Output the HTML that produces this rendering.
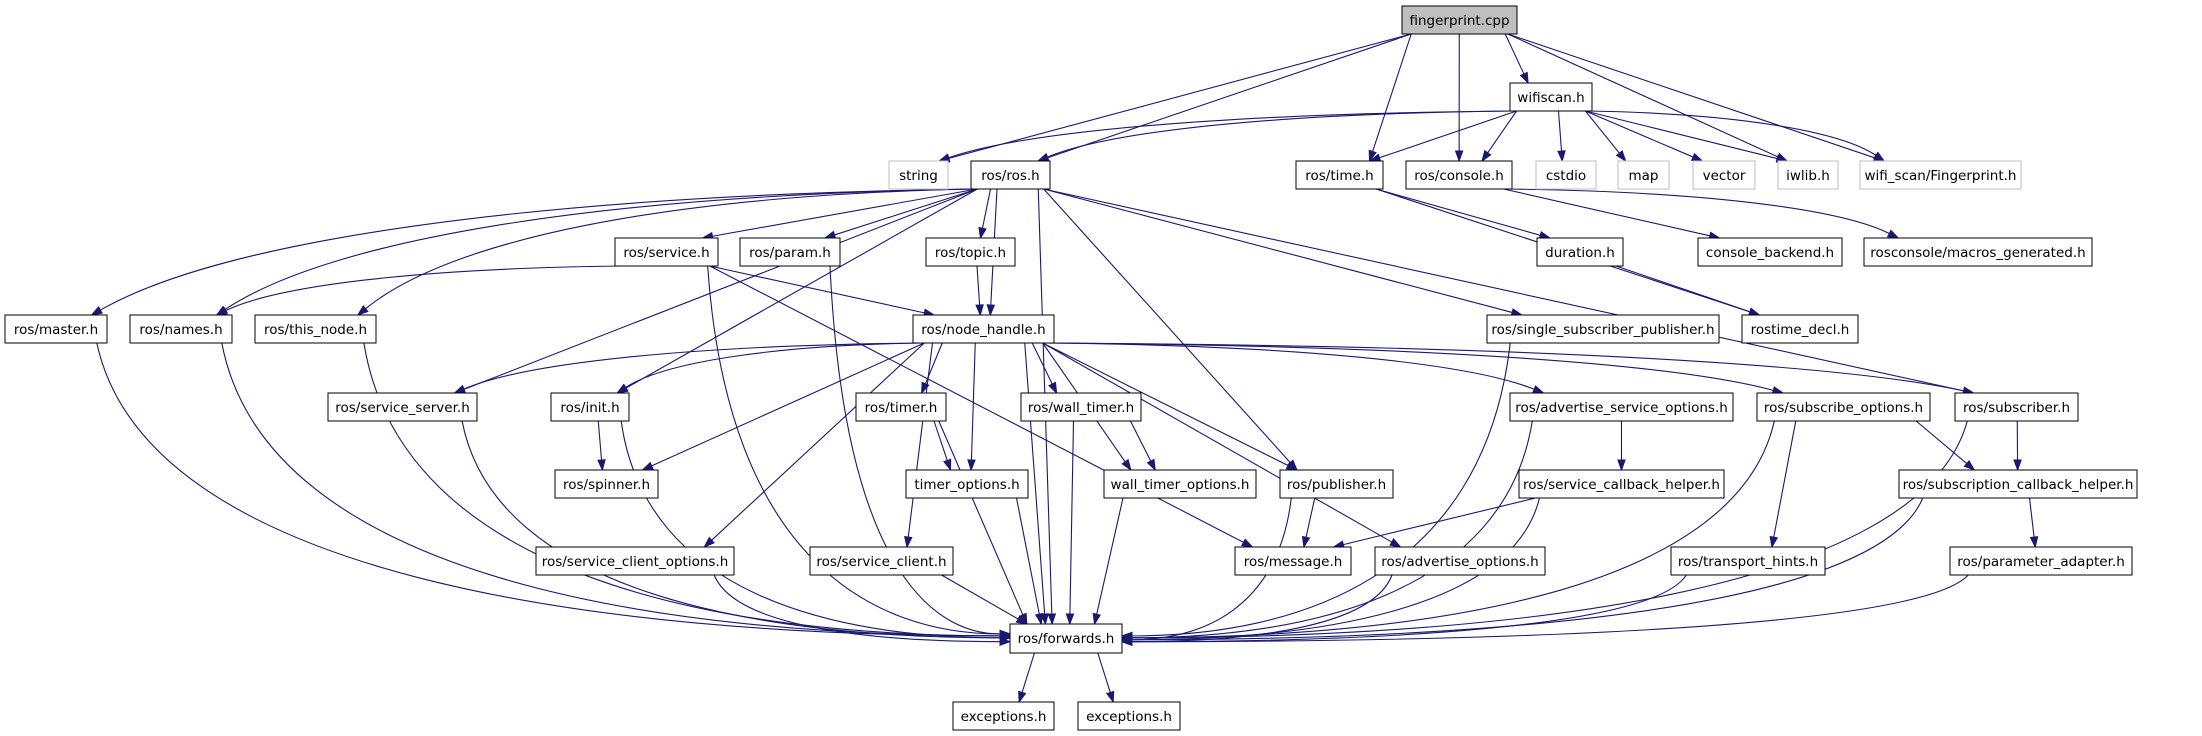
<!DOCTYPE html>
<html><head><meta charset="utf-8"><style>
html,body{margin:0;padding:0;background:#fff;}
svg{display:block;}
text{font-family:"DejaVu Sans","Liberation Sans",sans-serif;font-size:13.5px;fill:#000;}
</style></head><body>
<svg id="g" width="2202" height="736" viewBox="0 0 2202 736" xmlns="http://www.w3.org/2000/svg">
<g id="edges" fill="none" stroke="#191970" stroke-width="1.1"></g>
<g id="heads" fill="#191970" stroke="#191970"></g>
<g id="nodes" stroke-width="1">
<rect x="1402" y="6" width="115" height="28" fill="#bfbfbf" stroke="#000"/><text x="1459.5" y="25" text-anchor="middle">fingerprint.cpp</text>
<rect x="1510" y="83" width="82" height="28" fill="#fff" stroke="#000"/><text x="1551" y="102" text-anchor="middle">wifiscan.h</text>
<rect x="889" y="161" width="59" height="28" fill="#fff" stroke="#bfbfbf"/><text x="918.5" y="180" text-anchor="middle">string</text>
<rect x="971" y="161" width="79" height="28" fill="#fff" stroke="#000"/><text x="1010.5" y="180" text-anchor="middle">ros/ros.h</text>
<rect x="1296" y="161" width="87" height="28" fill="#fff" stroke="#000"/><text x="1339.5" y="180" text-anchor="middle">ros/time.h</text>
<rect x="1406" y="161" width="106" height="28" fill="#fff" stroke="#000"/><text x="1459" y="180" text-anchor="middle">ros/console.h</text>
<rect x="1536" y="161" width="60" height="28" fill="#fff" stroke="#bfbfbf"/><text x="1566" y="180" text-anchor="middle">cstdio</text>
<rect x="1618" y="161" width="51" height="28" fill="#fff" stroke="#bfbfbf"/><text x="1643.5" y="180" text-anchor="middle">map</text>
<rect x="1693" y="161" width="62" height="28" fill="#fff" stroke="#bfbfbf"/><text x="1724" y="180" text-anchor="middle">vector</text>
<rect x="1778" y="161" width="60" height="28" fill="#fff" stroke="#bfbfbf"/><text x="1808" y="180" text-anchor="middle">iwlib.h</text>
<rect x="1860" y="161" width="161" height="28" fill="#fff" stroke="#bfbfbf"/><text x="1940.5" y="180" text-anchor="middle">wifi_scan/Fingerprint.h</text>
<rect x="615" y="238" width="103" height="28" fill="#fff" stroke="#000"/><text x="666.5" y="257" text-anchor="middle">ros/service.h</text>
<rect x="740" y="238" width="100" height="28" fill="#fff" stroke="#000"/><text x="790" y="257" text-anchor="middle">ros/param.h</text>
<rect x="926" y="238" width="89" height="28" fill="#fff" stroke="#000"/><text x="970.5" y="257" text-anchor="middle">ros/topic.h</text>
<rect x="1537" y="238" width="86" height="28" fill="#fff" stroke="#000"/><text x="1580" y="257" text-anchor="middle">duration.h</text>
<rect x="1698" y="238" width="144" height="28" fill="#fff" stroke="#000"/><text x="1770" y="257" text-anchor="middle">console_backend.h</text>
<rect x="1864" y="238" width="228" height="28" fill="#fff" stroke="#000"/><text x="1978" y="257" text-anchor="middle">rosconsole/macros_generated.h</text>
<rect x="5" y="315" width="102" height="28" fill="#fff" stroke="#000"/><text x="56" y="334" text-anchor="middle">ros/master.h</text>
<rect x="130" y="315" width="102" height="28" fill="#fff" stroke="#000"/><text x="181" y="334" text-anchor="middle">ros/names.h</text>
<rect x="255" y="315" width="121" height="28" fill="#fff" stroke="#000"/><text x="315.5" y="334" text-anchor="middle">ros/this_node.h</text>
<rect x="913" y="315" width="141" height="28" fill="#fff" stroke="#000"/><text x="983.5" y="334" text-anchor="middle">ros/node_handle.h</text>
<rect x="1487" y="315" width="232" height="28" fill="#fff" stroke="#000"/><text x="1603" y="334" text-anchor="middle">ros/single_subscriber_publisher.h</text>
<rect x="1742" y="315" width="116" height="28" fill="#fff" stroke="#000"/><text x="1800" y="334" text-anchor="middle">rostime_decl.h</text>
<rect x="328" y="393" width="149" height="28" fill="#fff" stroke="#000"/><text x="402.5" y="412" text-anchor="middle">ros/service_server.h</text>
<rect x="551" y="393" width="78" height="28" fill="#fff" stroke="#000"/><text x="590" y="412" text-anchor="middle">ros/init.h</text>
<rect x="856" y="393" width="90" height="28" fill="#fff" stroke="#000"/><text x="901" y="412" text-anchor="middle">ros/timer.h</text>
<rect x="1021" y="393" width="120" height="28" fill="#fff" stroke="#000"/><text x="1081" y="412" text-anchor="middle">ros/wall_timer.h</text>
<rect x="1510" y="393" width="223" height="28" fill="#fff" stroke="#000"/><text x="1621.5" y="412" text-anchor="middle">ros/advertise_service_options.h</text>
<rect x="1757" y="393" width="173" height="28" fill="#fff" stroke="#000"/><text x="1843.5" y="412" text-anchor="middle">ros/subscribe_options.h</text>
<rect x="1955" y="393" width="123" height="28" fill="#fff" stroke="#000"/><text x="2016.5" y="412" text-anchor="middle">ros/subscriber.h</text>
<rect x="555" y="470" width="103" height="28" fill="#fff" stroke="#000"/><text x="606.5" y="489" text-anchor="middle">ros/spinner.h</text>
<rect x="906" y="470" width="122" height="28" fill="#fff" stroke="#000"/><text x="967" y="489" text-anchor="middle">timer_options.h</text>
<rect x="1104" y="470" width="152" height="28" fill="#fff" stroke="#000"/><text x="1180" y="489" text-anchor="middle">wall_timer_options.h</text>
<rect x="1280" y="470" width="113" height="28" fill="#fff" stroke="#000"/><text x="1336.5" y="489" text-anchor="middle">ros/publisher.h</text>
<rect x="1519" y="470" width="205" height="28" fill="#fff" stroke="#000"/><text x="1621.5" y="489" text-anchor="middle">ros/service_callback_helper.h</text>
<rect x="1899" y="470" width="238" height="28" fill="#fff" stroke="#000"/><text x="2018" y="489" text-anchor="middle">ros/subscription_callback_helper.h</text>
<rect x="536" y="547" width="198" height="28" fill="#fff" stroke="#000"/><text x="635" y="566" text-anchor="middle">ros/service_client_options.h</text>
<rect x="810" y="547" width="143" height="28" fill="#fff" stroke="#000"/><text x="881.5" y="566" text-anchor="middle">ros/service_client.h</text>
<rect x="1235" y="547" width="116" height="28" fill="#fff" stroke="#000"/><text x="1293" y="566" text-anchor="middle">ros/message.h</text>
<rect x="1375" y="547" width="170" height="28" fill="#fff" stroke="#000"/><text x="1460" y="566" text-anchor="middle">ros/advertise_options.h</text>
<rect x="1671" y="547" width="154" height="28" fill="#fff" stroke="#000"/><text x="1748" y="566" text-anchor="middle">ros/transport_hints.h</text>
<rect x="1950" y="547" width="182" height="28" fill="#fff" stroke="#000"/><text x="2041" y="566" text-anchor="middle">ros/parameter_adapter.h</text>
<rect x="1010" y="624" width="112" height="29" fill="#fff" stroke="#000"/><text x="1066" y="643" text-anchor="middle">ros/forwards.h</text>
<rect x="953" y="702" width="101" height="28" fill="#fff" stroke="#000"/><text x="1003.5" y="721" text-anchor="middle">exceptions.h</text>
<rect x="1078" y="702" width="102" height="28" fill="#fff" stroke="#000"/><text x="1129" y="721" text-anchor="middle">exceptions.h</text>
</g>
</svg>
<script>
var N={
fp:[1402,6,115],wifi:[1510,83,82],str:[889,161,59],ros:[971,161,79],time:[1296,161,87],cons:[1406,161,106],
cstdio:[1536,161,60],map:[1618,161,51],vec:[1693,161,62],iw:[1778,161,60],wf:[1860,161,161],
svc:[615,238,103],param:[740,238,100],topic:[926,238,89],dur:[1537,238,86],cb:[1698,238,144],mg:[1864,238,228],
master:[5,315,102],names:[130,315,102],tn:[255,315,121],nh:[913,315,141],ssp:[1487,315,232],rd:[1742,315,116],
ss:[328,393,149],init:[551,393,78],timer:[856,393,90],wt:[1021,393,120],aso:[1510,393,223],so:[1757,393,173],sub:[1955,393,123],
spin:[555,470,103],to:[906,470,122],wto:[1104,470,152],pub:[1280,470,113],sch:[1519,470,205],scbh:[1899,470,238],
sco:[536,547,198],sc:[810,547,143],msg:[1235,547,116],ao:[1375,547,170],th:[1671,547,154],pa:[1950,547,182],
fw:[1010,624,112],ex1:[953,702,101],ex2:[1078,702,102]};
var E=[
['fp','str'],['fp','ros'],['fp','time'],['fp','cons'],['fp','wifi'],['fp','iw'],['fp','wf'],
['wifi','str'],['wifi','ros'],['wifi','time'],['wifi','cons'],['wifi','cstdio'],['wifi','map'],['wifi','vec'],['wifi','iw'],['wifi','wf'],
['time','dur'],['time','rd'],['cons','cb'],['cons','mg'],['dur','rd'],
['ros','master'],['ros','names'],['ros','tn'],['ros','svc'],['ros','param'],['ros','topic'],['ros','nh'],['ros','init'],['ros','ss'],['ros','pub'],['ros','ssp'],['ros','sub'],['ros','fw'],
['svc','names'],['svc','nh'],['svc','fw'],['svc','msg'],['param','fw'],['topic','nh'],
['master','fw'],['names','fw'],['tn','fw'],
['nh','ss'],['nh','init'],['nh','spin'],['nh','timer'],['nh','wt'],['nh','to'],['nh','wto'],['nh','pub'],['nh','ao'],['nh','aso'],['nh','so'],['nh','sub'],['nh','sco'],['nh','sc'],['nh','fw'],
['ss','fw'],['init','spin'],['init','fw'],['timer','to'],['timer','fw'],['wt','wto'],['wt','fw'],['to','fw'],['wto','fw'],['sco','fw'],['sc','fw'],
['pub','msg'],['pub','fw'],['aso','sch'],['aso','fw'],['sch','msg'],['sch','fw'],['ao','fw'],
['so','th'],['so','scbh'],['so','fw'],['sub','scbh'],['sub','fw'],['scbh','pa'],['scbh','fw'],['th','fw'],['pa','fw'],['ssp','fw'],
['fw','ex1'],['fw','ex2']];
var eg=document.getElementById('edges'),hg=document.getElementById('heads'),ns='http://www.w3.org/2000/svg';
function clamp(v,a){return Math.max(-a,Math.min(a,v));}
E.forEach(function(e){
 var s=N[e[0]],t=N[e[1]];var H=28;
 var scx=s[0]+s[2]/2,tcx=t[0]+t[2]/2;
 var sy=s[1]+H,ty=t[1];
 var dx=tcx-scx, dy=ty-sy;
 var sx,ex,ey,c1x,c1y,c2x,c2y;
 if(e[1]=='fw'&&Math.abs(dx)>250){
   ey=638+clamp((s[1]-400)/40,8);
   ex=dx>0? t[0]: t[0]+t[2];
   sx=scx+clamp(dx*0.2,s[2]*0.4);
   c1x=sx+dx*0.05;c1y=sy+(ey-sy)*0.8;c2x=ex+(sx-ex)*0.45;c2y=ey;
 } else if(Math.abs(dx)>4.5*(dy+28)){
   sx=scx+clamp(dx,s[2]*0.45);
   ex=tcx-clamp(dx*0.3,t[2]*0.35); ey=ty;
   c1x=sx+(ex-sx)*0.5;c1y=sy+dy*0.05;c2x=ex+(sx-ex)*0.15;c2y=ey-dy*0.6;
 } else {
   sx=scx+clamp(dx*0.5,s[2]*0.42);
   ex=tcx-clamp(dx*0.25,t[2]*0.35); ey=ty;
   c1x=sx+(ex-sx)*0.33;c1y=sy+dy*0.33;c2x=sx+(ex-sx)*0.66;c2y=sy+dy*0.66;
 }
 var ax=ex-c2x,ay=ey-c2y,L=Math.hypot(ax,ay)||1;ax/=L;ay/=L;
 var bx=ex-ax*10,by=ey-ay*10;
 var p=document.createElementNS(ns,'path');
 p.setAttribute('d','M'+sx+','+sy+' C'+c1x+','+c1y+' '+c2x+','+c2y+' '+bx+','+by);
 eg.appendChild(p);
 var px=-ay*3.6,py=ax*3.6;
 var a=document.createElementNS(ns,'polygon');
 a.setAttribute('points',ex+','+ey+' '+(bx+px)+','+(by+py)+' '+(bx-px)+','+(by-py));
 hg.appendChild(a);
});
</script>
</body></html>
